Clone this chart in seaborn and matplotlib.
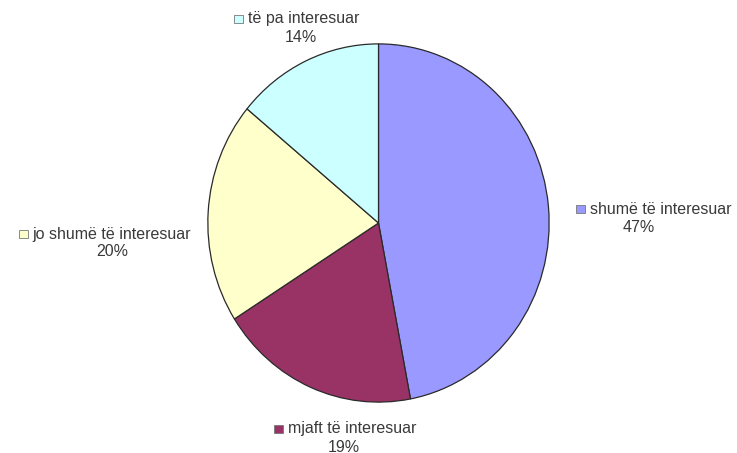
import matplotlib
matplotlib.use("Agg")
import matplotlib.pyplot as plt
from matplotlib.patches import Rectangle
import seaborn as sns

categories = ["shumë të interesuar", "mjaft të interesuar", "jo shumë të interesuar", "të pa interesuar"]
values = [47, 19, 20, 14]
pct_labels = ["47%", "19%", "20%", "14%"]
colors = ["#9999ff", "#993366", "#ffffcc", "#ccffff"]

sns.set_theme(style="white")
plt.rcParams["font.family"] = ["Liberation Sans", "DejaVu Sans"]

W, H = 737, 453
fig = plt.figure(figsize=(W / 100, H / 100), dpi=100)
fig.patch.set_facecolor("white")

# pie bounding box in pixels (top-left origin)
x0, x1, y0, y1 = 207, 550, 43, 403
ax = fig.add_axes([x0 / W, (H - y1) / H, (x1 - x0) / W, (y1 - y0) / H])
ax.pie(values, colors=colors, startangle=90, counterclock=False,
       wedgeprops=dict(edgecolor="#2a2a2a", linewidth=0.9))
ax.set_aspect("auto")
ax.set_xlim(-1.005, 1.005)
ax.set_ylim(-1.005, 1.005)
ax.axis("off")

# label positions (name centre x, name y, pct centre x, pct y)
label_pos = [
    (661, 209, 639, 227),   # shumë
    (352, 429, 344, 447),   # mjaft
    (112, 234, 112, 252),   # jo shumë
    (304, 19, 301, 37),     # të pa
]
tc = "#3a3a3a"
fs = 11.5
for cat, pct, col, (nx, ny, px, py) in zip(categories, pct_labels, colors, label_pos):
    t = fig.text(nx / W, 1 - ny / H, cat, ha="center", va="center", fontsize=fs, color=tc)
    fig.text(px / W, 1 - py / H, pct, ha="center", va="center", fontsize=fs, color=tc)
    fig.canvas.draw()
    bb = t.get_window_extent()
    left = bb.x0 - 14
    fig.patches.append(Rectangle((left / W, (H - ny - 4) / H), 9 / W, 8 / H,
                                 transform=fig.transFigure, facecolor=col,
                                 edgecolor="#777777", linewidth=0.6))

fig.savefig("out.png", dpi=100, facecolor="white")
